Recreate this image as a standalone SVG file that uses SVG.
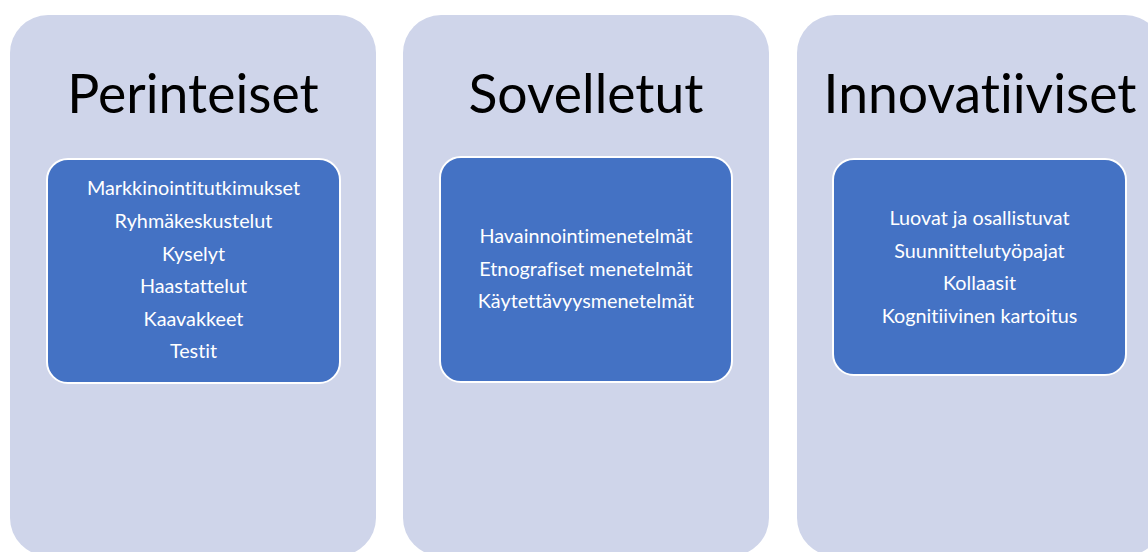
<svg xmlns="http://www.w3.org/2000/svg" width="1148" height="552" viewBox="0 0 1148 552">
<style>
.panel{fill:#CFD5EA;}
.box{fill:#4472C4;stroke:#FFFFFF;stroke-width:2;}
.title{font-family:Lato,"Liberation Sans",sans-serif;font-size:53.5px;fill:#000000;text-anchor:middle;font-variant-ligatures:none;}
.item{font-family:Lato,"Liberation Sans",sans-serif;font-size:19.8px;fill:#FFFFFF;text-anchor:middle;font-variant-ligatures:none;}
</style>
<rect width="1148" height="552" fill="#FFFFFF"/>
<g id="perinteiset">
<rect class="panel" x="10" y="15" width="366" height="541" rx="38" ry="38"/>
<text class="title" x="193" y="113">Perinteiset</text>
<rect class="box" x="47" y="159" width="293" height="224" rx="21" ry="21"/>
<text class="item" x="193.5" y="195">Markkinointitutkimukset</text>
<text class="item" x="193.5" y="228">Ryhmäkeskustelut</text>
<text class="item" x="193.5" y="261">Kyselyt</text>
<text class="item" x="193.5" y="293">Haastattelut</text>
<text class="item" x="193.5" y="326">Kaavakkeet</text>
<text class="item" x="193.5" y="358">Testit</text>
</g>
<g id="sovelletut">
<rect class="panel" x="403" y="15" width="366" height="541" rx="38" ry="38"/>
<text class="title" x="586" y="113">Sovelletut</text>
<rect class="box" x="440" y="157" width="292" height="225" rx="21" ry="21"/>
<text class="item" x="586" y="243">Havainnointimenetelmät</text>
<text class="item" x="586" y="276">Etnografiset menetelmät</text>
<text class="item" x="586" y="308">Käytettävyysmenetelmät</text>
</g>
<g id="innovatiiviset">
<rect class="panel" x="797" y="15" width="366" height="541" rx="38" ry="38"/>
<text class="title" x="980" y="113">Innovatiiviset</text>
<rect class="box" x="833" y="159" width="293" height="216" rx="21" ry="21"/>
<text class="item" x="979.5" y="225">Luovat ja osallistuvat</text>
<text class="item" x="979.5" y="258">Suunnittelutyöpajat</text>
<text class="item" x="979.5" y="290">Kollaasit</text>
<text class="item" x="979.5" y="323">Kognitiivinen kartoitus</text>
</g>
<g id="connectors"></g>
</svg>
